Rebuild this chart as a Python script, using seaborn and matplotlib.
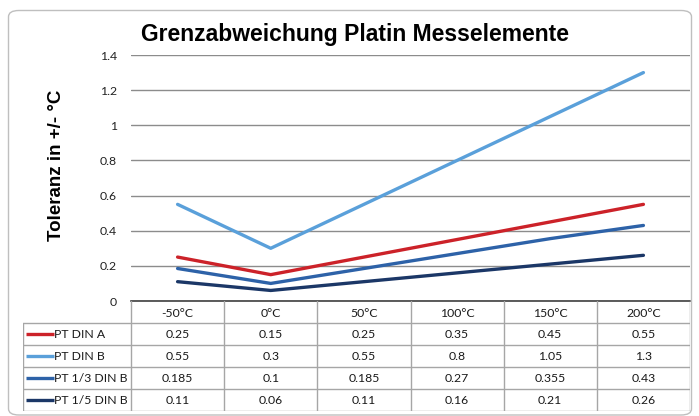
import matplotlib
matplotlib.use("Agg")
import matplotlib.pyplot as plt
import seaborn as sns
import pandas as pd
from matplotlib.patches import FancyBboxPatch

categories = ["-50°C", "0°C", "50°C", "100°C", "150°C", "200°C"]
series_names = ["PT DIN A", "PT DIN B", "PT 1/3 DIN B", "PT 1/5 DIN B"]
pt_din_a = [0.25, 0.15, 0.25, 0.35, 0.45, 0.55]
pt_din_b = [0.55, 0.3, 0.55, 0.8, 1.05, 1.3]
pt_13_din_b = [0.185, 0.1, 0.185, 0.27, 0.355, 0.43]
pt_15_din_b = [0.11, 0.06, 0.11, 0.16, 0.21, 0.26]
table_text = [["0.25", "0.15", "0.25", "0.35", "0.45", "0.55"],
              ["0.55", "0.3", "0.55", "0.8", "1.05", "1.3"],
              ["0.185", "0.1", "0.185", "0.27", "0.355", "0.43"],
              ["0.11", "0.06", "0.11", "0.16", "0.21", "0.26"]]
colors = ["#CC2229", "#5AA0DA", "#2D62A8", "#1B3767"]

values = [pt_din_a, pt_din_b, pt_13_din_b, pt_15_din_b]
rows = []
for name, vals in zip(series_names, values):
    for i, (c, v) in enumerate(zip(categories, vals)):
        rows.append({"series": name, "cat": c, "x": i, "value": v})
df = pd.DataFrame(rows)

sns.set_theme(style="white")
plt.rcParams["font.family"] = ["Lato", "DejaVu Sans"]

W, H = 699, 416
fig = plt.figure(figsize=(W / 100, H / 100), dpi=100)

# outer chart border
border = FancyBboxPatch((8.5 / W, 1 / H), 683 / W, 404.5 / H,
                        boxstyle="round,pad=0,rounding_size=0.015",
                        transform=fig.transFigure, fill=False,
                        edgecolor="#BFBFBF", linewidth=1.0)
fig.patches.append(border)

left, right, top, bottom = 131, 690, 55, 301
ax = fig.add_axes([left / W, 1 - bottom / H, (right - left) / W, (bottom - top) / H])
sns.lineplot(data=df, x="x", y="value", hue="series", hue_order=series_names,
             palette=colors, linewidth=2.4, ax=ax, legend=False, sort=False)
n = len(categories)
ax.set_xlim(-0.5, n - 0.5)
ax.set_ylim(0, 1.4)
ax.set_yticks([0, 0.2, 0.4, 0.6, 0.8, 1.0, 1.2, 1.4])
ax.set_yticklabels(["0", "0.2", "0.4", "0.6", "0.8", "1", "1.2", "1.4"])
ax.set_xticks([])
ax.set_xlabel("")
ax.set_ylabel("")
ax.tick_params(axis="y", length=0, pad=10, labelsize=8.8, labelcolor="#222222")
for t in ax.get_yticklabels():
    t.set_horizontalalignment("right")
ax.grid(axis="y", color="#8C8C8C", linewidth=1.0)
ax.set_axisbelow(True)
for s in ["top", "right", "left"]:
    ax.spines[s].set_visible(False)
ax.spines["bottom"].set_color("#404040")
ax.spines["bottom"].set_linewidth(1.2)

fig.text(355 / W, 1 - 35 / H, "Grenzabweichung Platin Messelemente",
         ha="center", va="center", fontsize=16.5, fontweight="bold",
         family=["Liberation Sans", "DejaVu Sans"], color="black")
fig.text(57 / W, 1 - 165 / H, "Toleranz in +/- °C", rotation=90,
         ha="center", va="center", fontsize=13.5, fontweight="bold",
         family=["Liberation Sans", "DejaVu Sans"], color="black")

# data table
t_left, t_right, t_top, t_bot = 23, 690, 301, 411
tax = fig.add_axes([t_left / W, 1 - t_bot / H, (t_right - t_left) / W, (t_bot - t_top) / H])
tax.set_xlim(0, t_right - t_left)
tax.set_ylim(t_bot - t_top, 0)
tax.axis("off")
lab_w = left - t_left
col_w = (t_right - left) / n
row_h = (t_bot - t_top) / (len(series_names) + 1)
gc = "#A6A6A6"
for j in range(n + 1):
    x = lab_w + j * col_w
    tax.plot([x, x], [0, row_h * (len(series_names) + 1)], color=gc, lw=1.0)
tax.plot([0, 0], [row_h, row_h * (len(series_names) + 1)], color=gc, lw=1.0)
for i in range(1, len(series_names) + 2):
    y = i * row_h
    tax.plot([0, t_right - t_left], [y, y], color=gc, lw=1.0)
fs = 8.8
for j, c in enumerate(categories):
    tax.text(lab_w + (j + 0.5) * col_w, 0.55 * row_h, c, ha="center", va="center",
             fontsize=fs, color="#1A1A1A")
for i, (name, col) in enumerate(zip(series_names, colors)):
    yc = (i + 1.5) * row_h
    tax.plot([3, 31], [yc, yc], color=col, lw=2.4, solid_capstyle="butt")
    tax.text(31, yc, name, ha="left", va="center", fontsize=fs, color="#1A1A1A")
    for j in range(n):
        tax.text(lab_w + (j + 0.5) * col_w, yc, table_text[i][j], ha="center",
                 va="center", fontsize=fs, color="#1A1A1A")

fig.savefig("out.png", dpi=100)
